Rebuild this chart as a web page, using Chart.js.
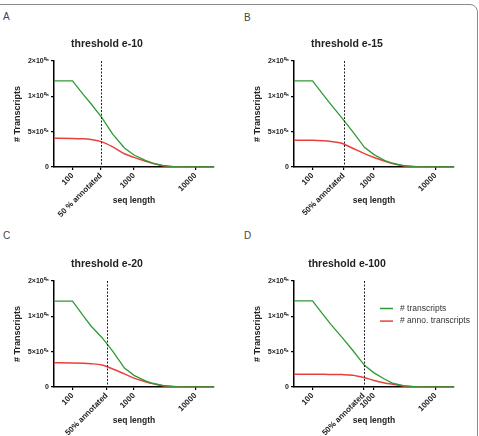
<!DOCTYPE html>
<html>
<head>
<meta charset="utf-8">
<script src="https://cdn.jsdelivr.net/npm/chart.js@4.4.0/dist/chart.umd.min.js"></script>
<style>
html, body { margin: 0; padding: 0; background: #fff; }
body { width: 479px; height: 436px; position: relative; overflow: hidden; font-family: "Liberation Sans", Arial, sans-serif; }
.frame { position: absolute; left: -20px; top: 4px; width: 498px; height: 600px; border: 1px solid #8a8a8a; border-radius: 8px; box-sizing: border-box; }
.panel { position: absolute; }
.letter { position: absolute; font-size: 10px; line-height: 10px; color: #444; }
</style>
</head>
<body>
<div class="frame"></div>
<div class="letter" style="left:3px;top:12px">A</div>
<div class="letter" style="left:244px;top:13px">B</div>
<div class="letter" style="left:3px;top:231px">C</div>
<div class="letter" style="left:244px;top:231px">D</div>
<canvas class="panel" id="panelA" width="240" height="218" style="left:0;top:0"></canvas>
<canvas class="panel" id="panelB" width="239" height="218" style="left:240px;top:0"></canvas>
<canvas class="panel" id="panelC" width="240" height="218" style="left:0;top:220px"></canvas>
<canvas class="panel" id="panelD" width="239" height="218" style="left:240px;top:220px"></canvas>
<script>
//x values (seq length) shared by all four panels
const seqLength = [50, 100, 150, 200, 300, 450, 700, 1000, 1500, 2000, 3000, 5000, 10000, 20000];

//one entry per panel A-D
const panelIds = ['panelA', 'panelB', 'panelC', 'panelD'];
const thresholds = ['threshold e-10', 'threshold e-15', 'threshold e-20', 'threshold e-100'];
const annotatedAt = [290, 322, 360, 676];
const annotatedLabels = ['50 % annotated', '50% annotated', '50% annotated', '50% annotated'];

//# transcripts
const transcriptsA = [122000, 122000, 102500, 89500, 70000, 46500, 27000, 17000, 9800, 5600, 1900, 300, 0, 0];
const transcriptsB = [122000, 122000, 102000, 88300, 69500, 50000, 27800, 17500, 9200, 5300, 1800, 300, 0, 0];
const transcriptsC = [121500, 121500, 100500, 86300, 70100, 50800, 26800, 16500, 9000, 5300, 1800, 300, 0, 0];
const transcriptsD = [121800, 121800, 102000, 88300, 70500, 52000, 30700, 20000, 11000, 5500, 1800, 300, 0, 0];

//# anno. transcripts
const annoA = [40600, 40500, 40000, 38800, 35600, 28500, 18800, 13600, 8500, 5300, 1800, 300, 0, 0];
const annoB = [37800, 37700, 37200, 36200, 33500, 26500, 19000, 13500, 8200, 5000, 1700, 300, 0, 0];
const annoC = [34200, 34100, 33700, 33000, 31000, 25500, 18500, 12500, 7800, 4800, 1700, 300, 0, 0];
const annoD = [17900, 17900, 17900, 17800, 17600, 16700, 13200, 9200, 5800, 4000, 1500, 300, 0, 0];

const seriesNames = ['# transcripts', '# anno. transcripts'];
const seriesColors = ['#2f9a35', '#e8413c'];

//axis ticks
const xTickValues = [100, 1000, 10000];
const yTickValues = [0, 50000, 100000, 150000];
const yTickLabels = ['0', '5×10⁰⁴', '1×10⁰⁵', '2×10⁰⁵'];

const transcripts = [transcriptsA, transcriptsB, transcriptsC, transcriptsD];
const anno = [annoA, annoB, annoC, annoD];

Chart.defaults.font.family = '"Liberation Sans", Arial, sans-serif';
Chart.defaults.color = '#222';

//dotted line where 50% of transcripts are annotated
const annotationLine = {
    id: 'annotationLine',
    afterDatasetsDraw(chart, args, opts) {
        const x = chart.scales.x.getPixelForValue(opts.value);
        const {top, bottom} = chart.chartArea;
        const ctx = chart.ctx;
        ctx.save();
        ctx.strokeStyle = '#222';
        ctx.lineWidth = 1;
        ctx.setLineDash([2, 1.5]);
        ctx.beginPath();
        ctx.moveTo(Math.round(x) + 0.5, top);
        ctx.lineTo(Math.round(x) + 0.5, bottom);
        ctx.stroke();
        ctx.restore();
    }
};

//small legend inside the chart area (only on panel D)
const innerLegend = {
    id: 'innerLegend',
    afterDraw(chart, args, opts) {
        if (!opts.show) return;
        const ctx = chart.ctx;
        const {left, top} = chart.chartArea;
        ctx.save();
        ctx.font = '8.5px "Liberation Sans", Arial, sans-serif';
        ctx.textBaseline = 'middle';
        chart.data.datasets.forEach((ds, i) => {
            const y = top + 27.5 + i * 12.6;
            ctx.strokeStyle = ds.borderColor;
            ctx.lineWidth = 1.5;
            ctx.beginPath();
            ctx.moveTo(left + 86, y);
            ctx.lineTo(left + 99, y);
            ctx.stroke();
            ctx.fillStyle = '#333';
            ctx.fillText(ds.label, left + 106, y);
        });
        ctx.restore();
    }
};

function printPanel(i) {
    const canvas = document.getElementById(panelIds[i]);
    const annot = annotatedAt[i];
    new Chart(canvas, {
        type: 'line',
        data: {
            datasets: [{
                label: seriesNames[0],
                data: seqLength.map((x, k) => ({x: x, y: transcripts[i][k]})),
                borderColor: seriesColors[0],
                borderWidth: 1.3,
                pointRadius: 0,
                tension: 0
            }, {
                label: seriesNames[1],
                data: seqLength.map((x, k) => ({x: x, y: anno[i][k]})),
                borderColor: seriesColors[1],
                borderWidth: 1.5,
                pointRadius: 0,
                cubicInterpolationMode: 'monotone'
            }]
        },
        options: {
            responsive: false,
            animation: false,
            layout: {padding: {left: 0, right: canvas.width - 214, top: 0, bottom: 0}},
            scales: {
                x: {
                    type: 'logarithmic',
                    min: 50,
                    max: 20000,
                    afterBuildTicks: (scale) => {
                        scale.ticks = [100, annot, 1000, 10000].map(v => ({value: v}));
                    },
                    afterFit: (scale) => { scale.height = 51; },
                    ticks: {
                        autoSkip: false,
                        minRotation: 45,
                        maxRotation: 45,
                        padding: 1,
                        font: {size: 8, weight: 'bold'},
                        color: '#222',
                        callback: (v) => v === annot ? annotatedLabels[i] : (xTickValues.includes(v) ? String(v) : '')
                    },
                    grid: {drawOnChartArea: false, drawTicks: true, tickLength: 3, color: '#000', lineWidth: 1.2},
                    border: {display: true, color: '#000', width: 1.5},
                    title: {
                        display: true,
                        text: 'seq length',
                        font: {size: 8.5, weight: 'bold'},
                        color: '#222',
                        padding: {top: 0, bottom: 12}
                    }
                },
                y: {
                    type: 'linear',
                    min: 0,
                    max: 150000,
                    afterBuildTicks: (scale) => {
                        scale.ticks = yTickValues.map(v => ({value: v}));
                    },
                    afterFit: (scale) => { scale.width = 54; },
                    ticks: {
                        padding: 2,
                        font: {size: 7, weight: 'bold'},
                        color: '#222',
                        callback: (v) => yTickLabels[yTickValues.indexOf(v)]
                    },
                    grid: {drawOnChartArea: false, drawTicks: true, tickLength: 3, color: '#000', lineWidth: 1.2},
                    border: {display: true, color: '#000', width: 1.5},
                    title: {
                        display: true,
                        text: '# Transcripts',
                        font: {size: 9, weight: 'bold'},
                        color: '#222',
                        padding: {top: 12, bottom: 0}
                    }
                }
            },
            plugins: {
                legend: {display: false},
                tooltip: {enabled: false},
                title: {
                    display: true,
                    text: thresholds[i],
                    font: {size: 10.5, weight: 'bold'},
                    color: '#222',
                    padding: {top: 38, bottom: 10.4}
                },
                annotationLine: {value: annot},
                innerLegend: {show: i === 3}
            }
        },
        plugins: [annotationLine, innerLegend]
    });
}

for (let i = 0; i < panelIds.length; i++) {
    printPanel(i);
}
</script>
</body>
</html>
